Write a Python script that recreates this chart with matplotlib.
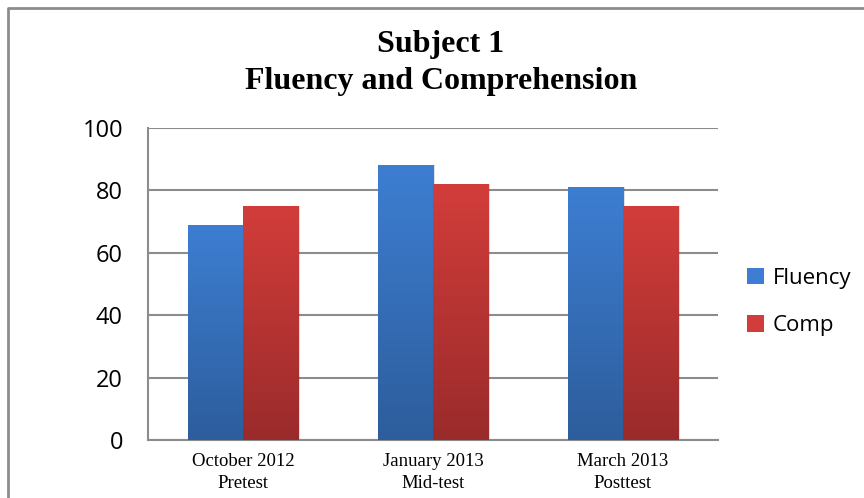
import numpy as np
import matplotlib.pyplot as plt
from matplotlib.colors import LinearSegmentedColormap
from matplotlib.lines import Line2D
from matplotlib.patches import Patch

categories = ["October 2012\nPretest", "January 2013\nMid-test", "March 2013\nPosttest"]
fluency = [69, 88, 81]
comp = [75, 82, 75]
series = ["Fluency", "Comp"]

blue_top, blue_bot = "#3d7ed2", "#2d5d9c"
red_top, red_bot = "#d23d3a", "#9a2b2b"

fig = plt.figure(figsize=(8.64, 4.98), dpi=100)
ax = fig.add_axes([148 / 864, 1 - 440 / 498, 570 / 864, 312 / 498])

x = np.arange(len(categories))
w = 0.29


def grad_bars(xs, vals, top, bot):
    cmap = LinearSegmentedColormap.from_list("g", [bot, top])
    grad = np.linspace(0, 1, 256).reshape(-1, 1)
    bars = ax.bar(xs, vals, w, color="none", edgecolor="none", zorder=3)
    for b in bars:
        bx, by = b.get_x(), b.get_y()
        bw, bh = b.get_width(), b.get_height()
        # soft shadow on the right
        ax.bar(bx + bw / 2 + 0.012, bh, bw, align="center", color="#000000", alpha=0.12, zorder=2.5)
        im = ax.imshow(grad, cmap=cmap, origin="lower", aspect="auto",
                       extent=[bx, bx + bw, by, by + bh], zorder=3)
        im.set_clip_path(b)
    return bars


grad_bars(x - w / 2, fluency, blue_top, blue_bot)
grad_bars(x + w / 2, comp, red_top, red_bot)

ax.set_xlim(-0.5, 2.5)
ax.set_ylim(0, 100)
ax.set_yticks(range(0, 101, 20))
ax.yaxis.grid(True, color="#8c8c8c", linewidth=1.5, zorder=0)
ax.set_axisbelow(True)
ax.tick_params(axis="y", length=0, pad=18, labelsize=17)
ax.tick_params(axis="x", length=0, pad=9, labelsize=13.5)
ax.set_xticks(x)
ax.set_xticklabels(categories, family="Liberation Serif", linespacing=1.4)
for lab in ax.get_yticklabels():
    lab.set_family("Open Sans")
for s in ["top", "right"]:
    ax.spines[s].set_visible(False)
for s in ["left", "bottom"]:
    ax.spines[s].set_color("#8c8c8c")
    ax.spines[s].set_linewidth(1.5)

fig.text(441 / 864, 1 - 63 / 498, "Subject 1\nFluency and Comprehension",
         ha="center", va="center", family="Liberation Serif", weight="bold",
         fontsize=23, linespacing=1.32)

handles = [Patch(facecolor=blue_top), Patch(facecolor=red_top)]
fig.legend(handles, series, loc="center left", bbox_to_anchor=(727 / 864, 1 - 302 / 498),
           frameon=False, prop={"family": "Open Sans", "size": 16},
           handlelength=0.75, handleheight=0.75, handletextpad=0.4, labelspacing=1.2)

# outer chart border (left and top visible)
fig.add_artist(Line2D([8 / 864, 8 / 864, 1], [0, 1 - 8 / 498, 1 - 8 / 498],
                      transform=fig.transFigure, color="#8c8c8c", linewidth=2))

fig.savefig("out.png", dpi=100)
